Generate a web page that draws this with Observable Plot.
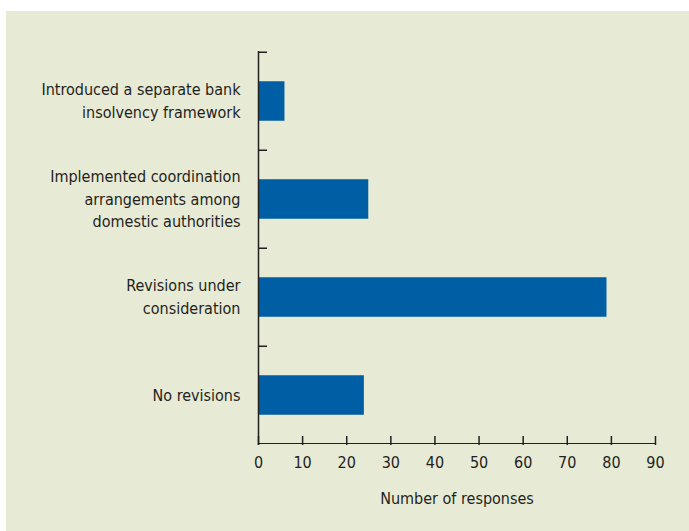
<!DOCTYPE html>
<html>
<head>
<meta charset="utf-8">
<script src="https://cdn.jsdelivr.net/npm/d3@7"></script>
<script src="https://cdn.jsdelivr.net/npm/@observablehq/plot@0.6"></script>
<style>
  html, body { margin: 0; padding: 0; background: #ffffff; }
  #panel { position: absolute; left: 6px; top: 11px; width: 683px; height: 520px; background: #e7ead5; }
</style>
</head>
<body>
<div id="panel"></div>
<script>
const categories = [
  "Introduced a separate bank insolvency framework",
  "Implemented coordination arrangements among domestic authorities",
  "Revisions under consideration",
  "No revisions"
];
const categoryLabels = [
  "Introduced a separate bank\ninsolvency framework",
  "Implemented coordination\narrangements among\ndomestic authorities",
  "Revisions under\nconsideration",
  "No revisions"
];
const values = [6, 25, 79, 24];
const xTicks = [0, 10, 20, 30, 40, 50, 60, 70, 80, 90];
const xDomain = [0, 90];
const xLabel = "Number of responses";

const data = categories.map((c, i) => ({category: c, value: values[i]}));
const labelMap = new Map(categories.map((c, i) => [c, categoryLabels[i]]));

const W = 683, H = 520, mT = 40, mB = 86, mL = 252, mR = 34;
const bandwidth = (H - mT - mB) / categories.length;
const barThickness = 40;
const inset = (bandwidth - barThickness) / 2;
const axisColor = "#231f20";
const axisWidth = 1.5;
const fs = 16;

const chart = Plot.plot({
  width: W,
  height: H,
  marginTop: mT,
  marginBottom: mB,
  marginLeft: mL,
  marginRight: mR,
  style: {
    background: "transparent",
    fontFamily: "'DejaVu Sans Condensed', 'DejaVu Sans', sans-serif",
    fontSize: fs + "px",
    color: axisColor
  },
  x: {domain: xDomain},
  y: {domain: categories, padding: 0},
  marks: [
    Plot.barX(data, {x: "value", y: "category", fill: "#005ea4", insetTop: inset, insetBottom: inset}),
    // bottom axis line (x baseline along the last band's bottom edge)
    Plot.barX([categories[categories.length - 1]], {x1: xDomain[0], x2: xDomain[1], y: d => d,
      fill: axisColor, insetTop: bandwidth - axisWidth}),
    // left axis line
    Plot.ruleX([xDomain[0]], {stroke: axisColor, strokeWidth: axisWidth}),
    Plot.axisX({ticks: xTicks, tickSize: -9, tickPadding: 20, strokeWidth: axisWidth,
      label: xLabel, labelAnchor: "center", labelOffset: 58, labelArrow: "none", fontSize: fs}),
    Plot.axisY({tickSize: 0, tickPadding: 18, tickFormat: d => labelMap.get(d), dy: -2,
      lineHeight: 1.41, label: null, fontSize: fs}),
    Plot.axisY({tickSize: -9, tickFormat: () => "", dy: -bandwidth / 2, strokeWidth: axisWidth, label: null})
  ]
});
document.getElementById("panel").appendChild(chart);
</script>
</body>
</html>
